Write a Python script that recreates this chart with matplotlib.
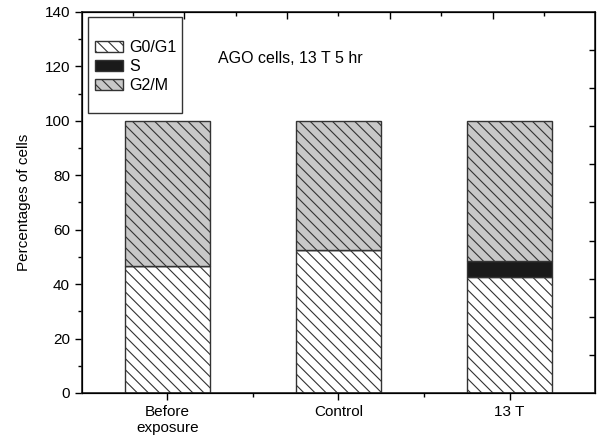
import matplotlib.pyplot as plt
from matplotlib.patches import Rectangle
from matplotlib.ticker import MultipleLocator, FixedLocator, NullFormatter

plt.rcParams['font.family'] = ['Liberation Sans', 'DejaVu Sans']
plt.rcParams['hatch.linewidth'] = 0.8
plt.rcParams['hatch.color'] = '#333333'

categories = ["Before\nexposure", "Control", "13 T"]
g0g1 = [46.5, 52.5, 42.5]
s_phase = [0.0, 0.0, 6.0]
g2m = [53.5, 47.5, 51.5]

x = list(range(len(categories)))
bottom_s = g0g1
bottom_g2 = [a + b for a, b in zip(g0g1, s_phase)]

fig = plt.figure(figsize=(5.97, 4.43), dpi=100)
ax = fig.add_axes([0.137, 0.113, 0.86, 0.86])

ax.bar(x, g0g1, width=0.5, color='white', edgecolor='#333333', linewidth=1.0,
       hatch='\\\\\\', label='G0/G1')
ax.bar(x, s_phase, width=0.5, bottom=bottom_s, color='#1a1a1a', edgecolor='#333333',
       linewidth=1.0, label='S')
ax.bar(x, g2m, width=0.5, bottom=bottom_g2, color='#c8c8c8', edgecolor='#333333',
       linewidth=1.0, hatch='\\\\\\', label='G2/M')

ax.set_xlim(-0.5, 2.5)
ax.set_ylim(0, 140)
ax.set_xticks(x)
ax.set_xticklabels(categories, fontsize=11)
ax.xaxis.set_minor_locator(FixedLocator([0.5, 1.5]))
ax.yaxis.set_major_locator(MultipleLocator(20))
ax.yaxis.set_minor_locator(MultipleLocator(10))
ax.tick_params(axis='both', which='major', direction='out', length=5, width=1.0, labelsize=11)
ax.tick_params(axis='both', which='minor', direction='out', length=3, width=1.0)
ax.set_ylabel("Percentages of cells", fontsize=11, labelpad=10)
for sp in ax.spines.values():
    sp.set_linewidth(1.2)
    sp.set_color('#222222')

# top and right frame ticks (secondary scale, no labels)
axt = ax.twiny()
axt.set_xlim(0, 10)
axt.xaxis.set_major_locator(FixedLocator([2, 4, 6, 8]))
axt.xaxis.set_minor_locator(FixedLocator([1, 3, 5, 7, 9]))
axt.xaxis.set_major_formatter(NullFormatter())
axt.tick_params(axis='x', which='major', direction='in', length=5, width=1.0)
axt.tick_params(axis='x', which='minor', direction='in', length=3, width=1.0)

axr = ax.twinx()
axr.set_ylim(0, 10)
axr.yaxis.set_major_locator(FixedLocator(range(1, 10)))
axr.yaxis.set_major_formatter(NullFormatter())
axr.tick_params(axis='y', which='major', direction='in', length=4, width=1.0)

# legend box drawn separately, entries placed inside it
ax.add_patch(Rectangle((0.012, 0.735), 0.183, 0.252, transform=ax.transAxes,
                       fill=False, edgecolor='#333333', linewidth=1.0, zorder=5))
ax.legend(loc='upper left', bbox_to_anchor=(0.0, 0.96), fontsize=11.5, frameon=False,
          handlelength=1.75, handleheight=0.7, handletextpad=0.45,
          labelspacing=0.25, borderpad=0.3)
ax.text(0.265, 0.865, "AGO cells, 13 T 5 hr", transform=ax.transAxes, fontsize=11.5)

fig.savefig("out.png", dpi=100)
